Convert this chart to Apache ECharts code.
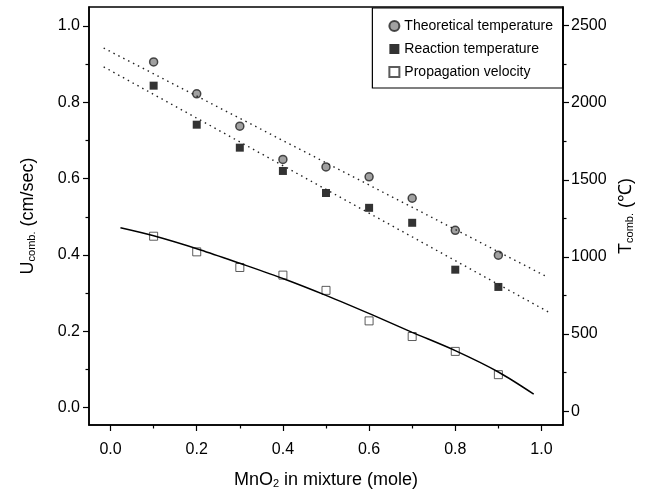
<!DOCTYPE html>
<html>
<head>
<meta charset="utf-8">
<script src="https://cdn.jsdelivr.net/npm/echarts@6/dist/echarts.min.js"></script>
<style>html,body{margin:0;padding:0;background:#fff}#c{width:667px;height:494px}</style>
</head>
<body>
<div id="c"></div>
<script>
// ---- data ----
const xVals = [0.1, 0.2, 0.3, 0.4, 0.5, 0.6, 0.7, 0.8, 0.9];
const theoTemp = [2264, 2057, 1847, 1632, 1583, 1519, 1380, 1172, 1011];
const reacTemp = [2110, 1857, 1708, 1557, 1414, 1318, 1221, 917, 805];
const propVel = [0.449, 0.408, 0.367, 0.347, 0.307, 0.227, 0.186, 0.147, 0.086];
// fitted lines
const tempFitX = [-0.016, 1.016];
const theoFitY = [2354, 866];
const reacFitY = [2232, 643];
const velFitX = [0.023, 0.1, 0.209, 0.3, 0.403, 0.5, 0.605, 0.7, 0.8, 0.9, 0.982];
const velFitY = [0.471, 0.450, 0.413, 0.378, 0.337, 0.294, 0.244, 0.197, 0.149, 0.093, 0.035];
// ticks
const xTicks = [0, 0.2, 0.4, 0.6, 0.8, 1.0];
const xMinor = [0.1, 0.3, 0.5, 0.7, 0.9];
const yLTicks = [0, 0.2, 0.4, 0.6, 0.8, 1.0];
const yLMinor = [0.1, 0.3, 0.5, 0.7, 0.9];
const yRTicks = [0, 500, 1000, 1500, 2000, 2500];
const yRMinor = [250, 750, 1250, 1750, 2250];
const names = ['Theoretical temperature', 'Reaction temperature', 'Propagation velocity'];

const F = 'Liberation Sans, Arial, sans-serif';
const zip = (a, b) => a.map((v, i) => [v, b[i]]);
const lineAx = {show: true, onZero: false, lineStyle: {color: '#000', width: 1.5}};
const noLine = {show: false, onZero: false};

const chart = echarts.init(document.getElementById('c'), null, {renderer: 'canvas'});
chart.setOption({
  animation: false,
  backgroundColor: '#fff',
  textStyle: {fontFamily: F, color: '#000'},
  grid: {left: 89, right: 104, top: 7, bottom: 66, show: true, borderColor: '#000', borderWidth: 1.5, backgroundColor: 'transparent'},
  legend: {
    data: names, orient: 'vertical', right: 104, top: 8,
    borderColor: '#000', borderWidth: 1.2, borderRadius: 0,
    padding: [11, 10, 9, 16], itemGap: 9, itemWidth: 10, itemHeight: 10,
    textStyle: {fontFamily: F, fontSize: 14, color: '#000'}
  },
  xAxis: [
    {type: 'value', min: -0.05, max: 1.05, position: 'bottom',
     axisLine: lineAx, splitLine: {show: false},
     axisTick: {show: true, inside: false, length: 6, lineStyle: {color: '#000', width: 1.2}, customValues: xTicks},
     axisLabel: {show: true, customValues: xTicks, margin: 17, fontSize: 16, color: '#000', fontFamily: F, formatter: v => v.toFixed(1)},
     name: 'MnO{s|2} in mixture (mole)', nameLocation: 'middle', nameGap: 46,
     nameTextStyle: {fontSize: 18, color: '#000', fontFamily: F, rich: {s: {fontSize: 11, verticalAlign: 'bottom', lineHeight: 4, fontFamily: F}}}},
    {type: 'value', min: -0.05, max: 1.05, position: 'bottom',
     axisLine: noLine, splitLine: {show: false}, axisLabel: {show: false},
     axisTick: {show: true, inside: false, length: 3.5, lineStyle: {color: '#000', width: 1.2}, customValues: xMinor}}
  ],
  yAxis: [
    {type: 'value', min: -0.046, max: 1.05, position: 'left',
     axisLine: lineAx, splitLine: {show: false},
     axisTick: {show: true, inside: false, length: 6, lineStyle: {color: '#000', width: 1.2}, customValues: yLTicks},
     axisLabel: {show: true, customValues: yLTicks, margin: 9, fontSize: 16, color: '#000', fontFamily: F, formatter: v => v.toFixed(1)},
     name: '{a|U}{b|comb.}{a| (cm/sec)}', nameLocation: 'middle', nameRotate: 90, nameGap: 52,
     nameTextStyle: {fontFamily: F, rich: {a: {fontSize: 18, fontFamily: F, color: '#000'}, b: {fontSize: 11, verticalAlign: 'bottom', lineHeight: 6, fontFamily: F, color: '#000'}}}},
    {type: 'value', min: -0.046, max: 1.05, position: 'left',
     axisLine: noLine, splitLine: {show: false}, axisLabel: {show: false},
     axisTick: {show: true, inside: false, length: 3.5, lineStyle: {color: '#000', width: 1.2}, customValues: yLMinor}},
    {type: 'value', min: -90, max: 2620, position: 'right',
     axisLine: lineAx, splitLine: {show: false},
     axisTick: {show: true, inside: false, length: 6, lineStyle: {color: '#000', width: 1.2}, customValues: yRTicks},
     axisLabel: {show: true, customValues: yRTicks, margin: 8, fontSize: 16, color: '#000', fontFamily: F, formatter: v => String(v)},
     name: '{a|T}{b|comb.}{a| (℃)}', nameLocation: 'middle', nameRotate: 90, nameGap: 48,
     nameTextStyle: {fontFamily: F, rich: {a: {fontSize: 18, fontFamily: F, color: '#000'}, b: {fontSize: 11, verticalAlign: 'bottom', lineHeight: 6, fontFamily: F, color: '#000'}}}},
    {type: 'value', min: -90, max: 2620, position: 'right',
     axisLine: noLine, splitLine: {show: false}, axisLabel: {show: false},
     axisTick: {show: true, inside: false, length: 3.5, lineStyle: {color: '#000', width: 1.2}, customValues: yRMinor}}
  ],
  series: [
    {name: 'theoFit', type: 'line', yAxisIndex: 2, data: zip(tempFitX, theoFitY), showSymbol: false, silent: true,
     lineStyle: {type: [1.5, 4], color: '#222', width: 1.4}},
    {name: 'reacFit', type: 'line', yAxisIndex: 2, data: zip(tempFitX, reacFitY), showSymbol: false, silent: true,
     lineStyle: {type: [1.5, 4], color: '#222', width: 1.4}},
    {name: 'velFit', type: 'line', yAxisIndex: 0, data: zip(velFitX, velFitY), showSymbol: false, silent: true,
     smooth: 0.3,
     lineStyle: {type: 'solid', color: '#000', width: 1.5}},
    {name: names[0], type: 'scatter', yAxisIndex: 2, data: zip(xVals, theoTemp), symbol: 'circle', symbolSize: 8,
     itemStyle: {color: '#8a8a8a', borderColor: '#222', borderWidth: 1.5}},
    {name: names[1], type: 'scatter', yAxisIndex: 2, data: zip(xVals, reacTemp), symbol: 'rect', symbolSize: 8,
     itemStyle: {color: '#000', borderColor: '#000', borderWidth: 0}},
    {name: names[2], type: 'scatter', yAxisIndex: 0, data: zip(xVals, propVel), symbol: 'rect', symbolSize: 8,
     itemStyle: {color: '#fff', borderColor: '#333', borderWidth: 1}}
  ]
});
</script>
</body>
</html>
